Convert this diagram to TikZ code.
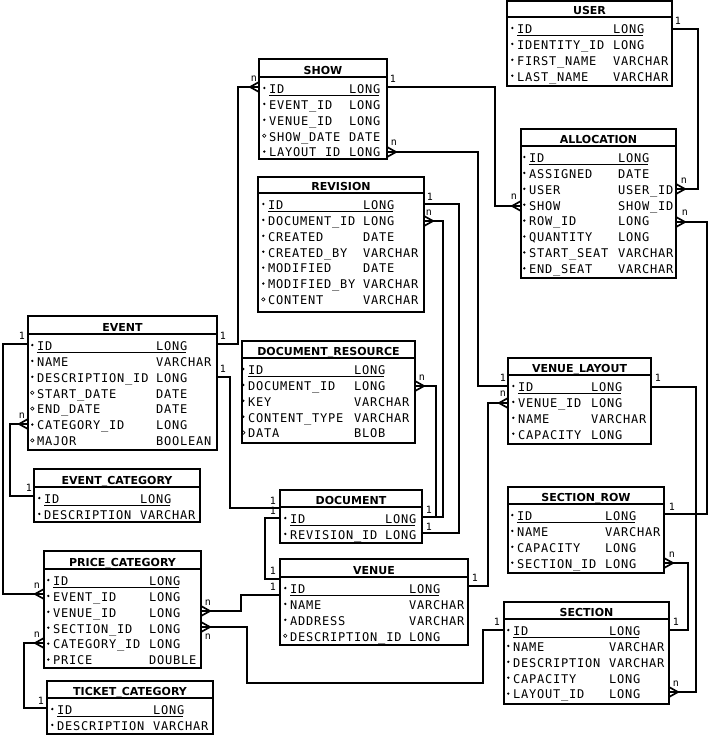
\documentclass[tikz,border=0pt]{standalone}
\usepackage{fontspec}
\newfontfamily\fldfam{DejaVu Sans Mono}[LetterSpace=6.5]
\newfontfamily\ttlfam{DejaVu Sans}
\newfontfamily\lblfam{DejaVu Sans Mono}
\tikzset{
  conn/.style={line width=1.7pt, line join=miter},
  boxnode/.style={draw, rectangle, line width=1.7pt, inner sep=0pt, outer sep=0pt, anchor=north west, fill=white},
  frame/.style={line width=1.7pt},
  uline/.style={line width=0.9pt},
  fld/.style={font=\fldfam\fontsize{12pt}{14pt}\selectfont, inner sep=0pt, anchor=base west},
  ttl/.style={font=\ttlfam\bfseries\fontsize{11pt}{13pt}\selectfont, inner sep=0pt, anchor=base},
  lbl/.style={font=\lblfam\fontsize{10pt}{12pt}\selectfont, inner sep=0pt},
  crowE/.pic={\draw[conn] (0,-5) -- (9,0) -- (0,5);},
  crowW/.pic={\draw[conn] (0,-5) -- (-9,0) -- (0,5);}
}
\newcommand\erbox[7]{%
  \node[boxnode, minimum width={(#5-#3)*1pt}, minimum height={(#7-#4)*1pt}] (#1) at (#3,#4) {};
  \draw[frame] (#1.west |- 0,#6) -- (#1.east |- 0,#6);
  \node[ttl] (#1-title) at ({(#3+#5)/2},#6-2.2) {#2};
}
\newcommand\erfields[5]{%
  \foreach \k/\N/\T [count=\i] in {#5} {
    \pgfmathsetmacro\by{#4+16.3+15.9*(\i-1)}
    \node[fld] (#1-n\i) at (#2,\by) {\N};
    \node[fld] (#1-t\i) at (#3,\by) {\T};
    \if\k o\path[draw, line width=0.6pt] (#2-4.7,\by-5.3) circle (1.7pt);
    \else\path[fill] (#2-4.7,\by-5.3) circle (1.3pt);\fi
  }
  \draw[uline] (#2,#4+18.1) -- (#3+30,#4+18.1);
}
\begin{document}
\begin{tikzpicture}[x=1pt,y=-1pt]
\useasboundingbox[fill=white] (0,0) rectangle (708,736);

% ---------- tables ----------
\erbox{user}{USER}{507}{1}{672}{17}{86}
\erfields{user}{517}{613}{17}{f/ID/LONG, f/IDENTITY\_ID/LONG, f/FIRST\_NAME/VARCHAR, f/LAST\_NAME/VARCHAR}

\erbox{alloc}{ALLOCATION}{521}{129}{676}{146}{278}
\erfields{alloc}{529}{618}{146}{f/ID/LONG, f/ASSIGNED/DATE, f/USER/USER\_ID, f/SHOW/SHOW\_ID, f/ROW\_ID/LONG, f/QUANTITY/LONG, f/START\_SEAT/VARCHAR, f/END\_SEAT/VARCHAR}

\erbox{show}{SHOW}{259}{59}{387}{77}{159}
\erfields{show}{269}{349}{77}{f/ID/LONG, f/EVENT\_ID/LONG, f/VENUE\_ID/LONG, o/SHOW\_DATE/DATE, f/LAYOUT\_ID/LONG}

\erbox{revision}{REVISION}{258}{177}{424}{193}{312}
\erfields{revision}{268}{363}{193}{f/ID/LONG, f/DOCUMENT\_ID/LONG, f/CREATED/DATE, f/CREATED\_BY/VARCHAR, f/MODIFIED/DATE, f/MODIFIED\_BY/VARCHAR, o/CONTENT/VARCHAR}

\erbox{docres}{DOCUMENT\_RESOURCE}{242}{341}{415}{358}{443}
\erfields{docres}{248}{354}{358}{f/ID/LONG, f/DOCUMENT\_ID/LONG, f/KEY/VARCHAR, f/CONTENT\_TYPE/VARCHAR, o/DATA/BLOB}

\erbox{event}{EVENT}{28}{316}{217}{334}{450}
\erfields{event}{37}{156}{334}{f/ID/LONG, f/NAME/VARCHAR, f/DESCRIPTION\_ID/LONG, o/START\_DATE/DATE, o/END\_DATE/DATE, f/CATEGORY\_ID/LONG, o/MAJOR/BOOLEAN}

\erbox{evcat}{EVENT\_CATEGORY}{34}{469}{200}{487}{522}
\erfields{evcat}{44}{140}{487}{f/ID/LONG, f/DESCRIPTION/VARCHAR}

\erbox{document}{DOCUMENT}{280}{490}{422}{507}{543}
\erfields{document}{290}{385}{507}{f/ID/LONG, f/REVISION\_ID/LONG}

\erbox{venue}{VENUE}{280}{559}{468}{577}{645}
\erfields{venue}{290}{409}{577}{f/ID/LONG, f/NAME/VARCHAR, f/ADDRESS/VARCHAR, o/DESCRIPTION\_ID/LONG}

\erbox{price}{PRICE\_CATEGORY}{44}{551}{201}{569}{668}
\erfields{price}{53}{149}{569}{f/ID/LONG, f/EVENT\_ID/LONG, f/VENUE\_ID/LONG, f/SECTION\_ID/LONG, f/CATEGORY\_ID/LONG, f/PRICE/DOUBLE}

\erbox{tcat}{TICKET\_CATEGORY}{47}{681}{213}{698}{734}
\erfields{tcat}{57}{153}{698}{f/ID/LONG, f/DESCRIPTION/VARCHAR}

\erbox{vlay}{VENUE\_LAYOUT}{508}{358}{651}{375}{444}
\erfields{vlay}{518}{591}{375}{f/ID/LONG, f/VENUE\_ID/LONG, f/NAME/VARCHAR, f/CAPACITY/LONG}

\erbox{secrow}{SECTION\_ROW}{508}{487}{664}{504}{573}
\erfields{secrow}{517}{605}{504}{f/ID/LONG, f/NAME/VARCHAR, f/CAPACITY/LONG, f/SECTION\_ID/LONG}

\erbox{section}{SECTION}{504}{602}{669}{619}{704}
\erfields{section}{513}{609}{619}{f/ID/LONG, f/NAME/VARCHAR, f/DESCRIPTION/VARCHAR, f/CAPACITY/LONG, f/LAYOUT\_ID/LONG}

% ---------- connectors ----------
\draw[conn] (user.east |- 0,29) -| (698,189) -- (alloc.east |- 0,189);
\draw[conn] (show.east |- 0,87) -| (495,206) -- (alloc.west |- 0,206);
\draw[conn] (alloc.east |- 0,222) -| (707,514) -- (secrow.east |- 0,514);
\draw[conn] (vlay.east |- 0,387) -| (696,692) -- (section.east |- 0,692);
\draw[conn] (secrow.east |- 0,563) -| (688,630) -- (section.east |- 0,630);
\draw[conn] (show.east |- 0,152) -| (478,386) -- (vlay.west |- 0,386);
\draw[conn] (venue.east |- 0,586) -| (488,403) -- (vlay.west |- 0,403);
\draw[conn] (section.west |- 0,630) -| (483,683) -| (247,627) -- (price.east |- 0,627);
\draw[conn] (venue.west |- 0,595) -| (241,611) -- (price.east |- 0,611);
\draw[conn] (event.east |- 0,377) -| (230,508) -- (document.west |- 0,508);
\draw[conn] (document.west |- 0,518) -| (265,579) -- (venue.west |- 0,579);
\draw[conn] (document.east |- 0,517) -| (443,221) -- (revision.east |- 0,221);
\draw[conn] (document.east |- 0,517) -| (436,386) -- (docres.east |- 0,386);
\draw[conn] (document.east |- 0,533) -| (459,204) -- (revision.east |- 0,204);
\draw[conn] (event.east |- 0,344) -| (238,87) -- (show.west |- 0,87);
\draw[conn] (event.west |- 0,344) -| (3,594) -- (price.west |- 0,594);
\draw[conn] (evcat.west |- 0,496) -| (10,424) -- (event.west |- 0,424);
\draw[conn] (tcat.west |- 0,708) -| (24,643) -- (price.west |- 0,643);

% ---------- crow's feet ----------
\pic at (alloc.east |- 0,189) {crowE};
\pic at (alloc.west |- 0,206) {crowW};
\pic at (alloc.east |- 0,222) {crowE};
\pic at (section.east |- 0,692) {crowE};
\pic at (secrow.east |- 0,563) {crowE};
\pic at (show.east |- 0,152) {crowE};
\pic at (vlay.west |- 0,403) {crowW};
\pic at (price.east |- 0,627) {crowE};
\pic at (price.east |- 0,611) {crowE};
\pic at (revision.east |- 0,221) {crowE};
\pic at (docres.east |- 0,386) {crowE};
\pic at (show.west |- 0,87) {crowW};
\pic at (price.west |- 0,594) {crowW};
\pic at (event.west |- 0,424) {crowW};
\pic at (price.west |- 0,643) {crowW};

% ---------- cardinality labels ----------
\node[lbl] (o1) at (678,21) {1};
\node[lbl] (o2) at (393,79) {1};
\node[lbl] (o3) at (672,507) {1};
\node[lbl] (o4) at (658,378) {1};
\node[lbl] (o5) at (676,622) {1};
\node[lbl] (o6) at (503,378) {1};
\node[lbl] (o7) at (475,578) {1};
\node[lbl] (o8) at (497,622) {1};
\node[lbl] (o9) at (273,587) {1};
\node[lbl] (o10) at (223,369) {1};
\node[lbl] (o11) at (273,501) {1};
\node[lbl] (o12) at (273,511) {1};
\node[lbl] (o13) at (273,571) {1};
\node[lbl] (o14) at (429,510) {1};
\node[lbl] (o15) at (429,527) {1};
\node[lbl] (o16) at (430,197) {1};
\node[lbl] (o17) at (223,336) {1};
\node[lbl] (o18) at (22,336) {1};
\node[lbl] (o19) at (29,488) {1};
\node[lbl] (o20) at (41,701) {1};

\node[lbl] (m1) at (684,181) {n};
\node[lbl] (m2) at (514,197) {n};
\node[lbl] (m3) at (685,213) {n};
\node[lbl] (m4) at (676,684) {n};
\node[lbl] (m5) at (672,555) {n};
\node[lbl] (m6) at (394,143) {n};
\node[lbl] (m7) at (503,394) {n};
\node[lbl] (m8) at (208,637) {n};
\node[lbl] (m9) at (208,603) {n};
\node[lbl] (m10) at (429,213) {n};
\node[lbl] (m11) at (422,378) {n};
\node[lbl] (m12) at (254,79) {n};
\node[lbl] (m13) at (37,586) {n};
\node[lbl] (m14) at (22,416) {n};
\node[lbl] (m15) at (37,635) {n};
\end{tikzpicture}
\end{document}
